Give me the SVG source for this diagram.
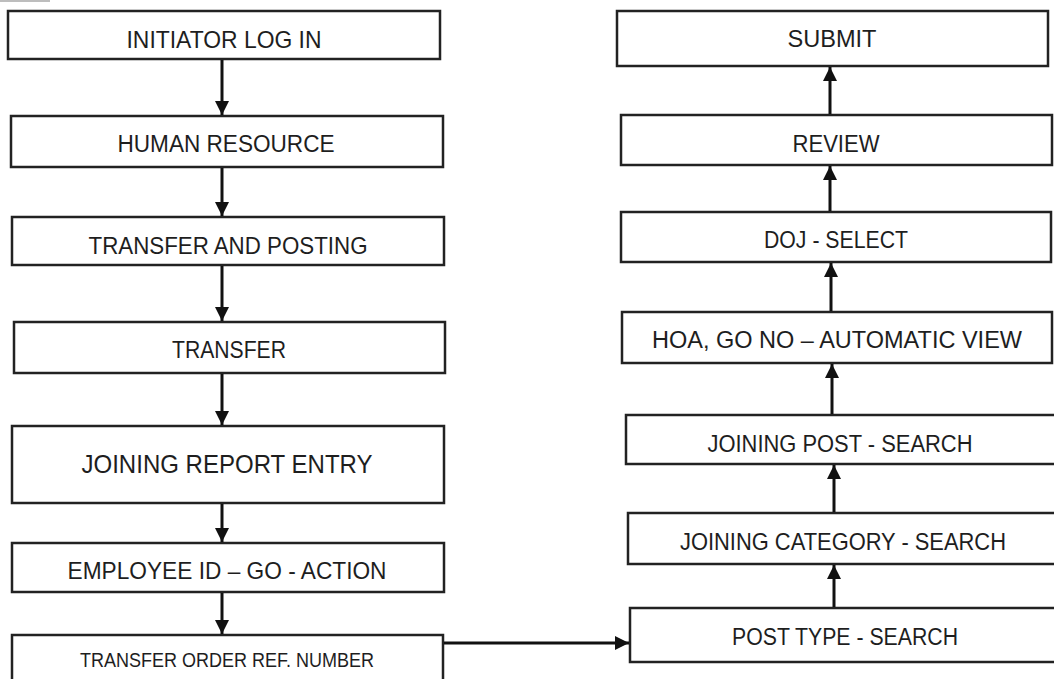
<svg xmlns="http://www.w3.org/2000/svg" width="1054" height="679" viewBox="0 0 1054 679">
  <style>
    .box { fill: #ffffff; stroke: #222222; stroke-width: 2.5; }
    .lbl { font-family: "Liberation Sans", Arial, sans-serif; font-size: 24.5px; fill: #1e1e1e; text-anchor: middle; }
    .big { font-size: 26.5px; }
    .small { font-size: 21px; }
    .edge { stroke: #111111; stroke-width: 3; fill: none; marker-end: url(#head); }
  </style>
  <defs>
    <marker id="head" markerUnits="userSpaceOnUse" markerWidth="15" markerHeight="15" viewBox="0 0 15 15" refX="14" refY="7.5" orient="auto">
      <path d="M0,0.5 L14,7.5 L0,14.5 Z" fill="#111111"/>
    </marker>
  </defs>
  <rect width="1054" height="679" fill="#ffffff"/>
  <rect x="0" y="0" width="50" height="2" fill="#bdbdbd"/>

  <!-- left column: login to transfer order -->
  <g id="initiator-log-in">
    <rect class="box" x="8" y="11" width="432" height="48"/>
    <text class="lbl" x="224" y="48" textLength="195" lengthAdjust="spacingAndGlyphs">INITIATOR LOG IN</text>
  </g>
  <g id="human-resource">
    <rect class="box" x="11" y="116" width="432" height="51"/>
    <text class="lbl" x="226" y="152" textLength="217" lengthAdjust="spacingAndGlyphs">HUMAN RESOURCE</text>
  </g>
  <g id="transfer-and-posting">
    <rect class="box" x="12" y="217" width="432" height="48"/>
    <text class="lbl" x="228" y="254" textLength="279" lengthAdjust="spacingAndGlyphs">TRANSFER AND POSTING</text>
  </g>
  <g id="transfer">
    <rect class="box" x="14" y="322" width="431" height="51"/>
    <text class="lbl" x="229" y="358" textLength="114" lengthAdjust="spacingAndGlyphs">TRANSFER</text>
  </g>
  <g id="joining-report-entry">
    <rect class="box" x="12" y="426" width="432" height="77"/>
    <text class="lbl big" x="227" y="473" textLength="291" lengthAdjust="spacingAndGlyphs">JOINING REPORT ENTRY</text>
  </g>
  <g id="employee-id">
    <rect class="box" x="12" y="543" width="432" height="49"/>
    <text class="lbl" x="227" y="579" textLength="319" lengthAdjust="spacingAndGlyphs">EMPLOYEE ID – GO - ACTION</text>
  </g>
  <g id="transfer-order-ref">
    <rect class="box" x="12" y="635" width="431" height="60"/>
    <text class="lbl small" x="227" y="667" textLength="294" lengthAdjust="spacingAndGlyphs">TRANSFER ORDER REF. NUMBER</text>
  </g>

  <!-- right column: post type up to submit -->
  <g id="submit">
    <rect class="box" x="617" y="11" width="431" height="55"/>
    <text class="lbl" x="832" y="47" textLength="89" lengthAdjust="spacingAndGlyphs">SUBMIT</text>
  </g>
  <g id="review">
    <rect class="box" x="621" y="115" width="431" height="50"/>
    <text class="lbl" x="836" y="152" textLength="87" lengthAdjust="spacingAndGlyphs">REVIEW</text>
  </g>
  <g id="doj-select">
    <rect class="box" x="621" y="212" width="430" height="50"/>
    <text class="lbl" x="836" y="248" textLength="144" lengthAdjust="spacingAndGlyphs">DOJ - SELECT</text>
  </g>
  <g id="hoa-go-no">
    <rect class="box" x="622" y="312" width="430" height="51"/>
    <text class="lbl" x="837" y="348" textLength="370" lengthAdjust="spacingAndGlyphs">HOA, GO NO – AUTOMATIC VIEW</text>
  </g>
  <g id="joining-post">
    <rect class="box" x="626" y="415" width="432" height="49"/>
    <text class="lbl" x="840" y="452" textLength="265" lengthAdjust="spacingAndGlyphs">JOINING POST - SEARCH</text>
  </g>
  <g id="joining-category">
    <rect class="box" x="628" y="513" width="430" height="51"/>
    <text class="lbl" x="843" y="550" textLength="326" lengthAdjust="spacingAndGlyphs">JOINING CATEGORY - SEARCH</text>
  </g>
  <g id="post-type">
    <rect class="box" x="630" y="608" width="428" height="54"/>
    <text class="lbl" x="845" y="645" textLength="226" lengthAdjust="spacingAndGlyphs">POST TYPE - SEARCH</text>
  </g>

  <!-- connectors -->
  <g id="connectors">
    <line class="edge" x1="222" y1="60" x2="222" y2="115"/>
    <line class="edge" x1="222" y1="168" x2="222" y2="216"/>
    <line class="edge" x1="222" y1="266" x2="222" y2="321"/>
    <line class="edge" x1="222" y1="374" x2="222" y2="425"/>
    <line class="edge" x1="222" y1="504" x2="222" y2="542"/>
    <line class="edge" x1="222" y1="593" x2="222" y2="634"/>
    <line class="edge" x1="444" y1="643" x2="629" y2="643"/>
    <line class="edge" x1="834" y1="607" x2="834" y2="565"/>
    <line class="edge" x1="834" y1="512" x2="834" y2="465"/>
    <line class="edge" x1="832" y1="414" x2="832" y2="364"/>
    <line class="edge" x1="831" y1="311" x2="831" y2="263"/>
    <line class="edge" x1="830" y1="211" x2="830" y2="166"/>
    <line class="edge" x1="830" y1="114" x2="830" y2="67"/>
  </g>
</svg>
